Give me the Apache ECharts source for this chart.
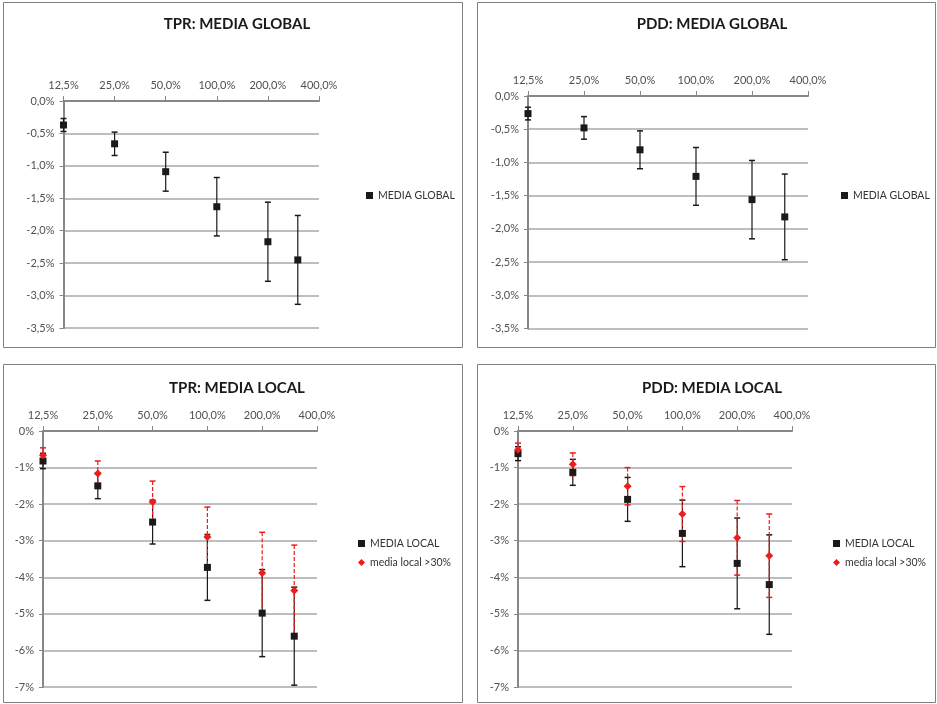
<!DOCTYPE html>
<html>
<head>
<meta charset="utf-8">
<script src="https://cdn.jsdelivr.net/npm/echarts@6/dist/echarts.min.js"></script>
<style>
  html, body { margin: 0; padding: 0; background: #fff; }
  #chart { width: 937px; height: 704px; }
</style>
</head>
<body>
<div id="chart"></div>
<script>
// Dose levels (% of reference), x positions on a base-2 log axis
const dosis = [12.5, 25, 50, 100, 200, 300];
const dosisTicks = ['12,5%', '25,0%', '50,0%', '100,0%', '200,0%', '400,0%'];

// TPR, global mean (%), with half-width of the error bar
const tprGlobalMedia = [-0.37, -0.66, -1.09, -1.63, -2.17, -2.45];
const tprGlobalError = [0.10, 0.18, 0.30, 0.45, 0.61, 0.685];

// PDD, global mean (%)
const pddGlobalMedia = [-0.265, -0.48, -0.81, -1.21, -1.56, -1.82];
const pddGlobalError = [0.095, 0.17, 0.285, 0.435, 0.59, 0.645];

// TPR, local mean (%) and local mean restricted to >30%
const tprLocalMedia = [-0.82, -1.50, -2.49, -3.73, -4.98, -5.61];
const tprLocalError = [0.21, 0.35, 0.60, 0.90, 1.19, 1.34];
const tprLocal30Media = [-0.66, -1.16, -1.94, -2.90, -3.88, -4.36];
const tprLocal30Error = [0.20, 0.34, 0.57, 0.82, 1.11, 1.24];

// PDD, local mean (%) and local mean restricted to >30%
const pddLocalMedia = [-0.62, -1.13, -1.87, -2.80, -3.62, -4.20];
const pddLocalError = [0.19, 0.355, 0.60, 0.91, 1.24, 1.36];
const pddLocal30Media = [-0.51, -0.91, -1.51, -2.27, -2.92, -3.41];
const pddLocal30Error = [0.18, 0.31, 0.51, 0.75, 1.02, 1.14];

const FONT = 'Lato, "Open Sans", sans-serif';
const AXIS_GRAY = '#878787';
const GRID_GRAY = '#a8a8a8';
const LABEL_GRAY = '#505050';
const BASE = 12.5;
const BLACK = '#1a1a1a';
const RED = '#ee1c1c';

// log2 axis counted in multiples of 12.5 %, so ticks fall on 12.5, 25, ... 400
function xPos(i) { return dosis[i] / BASE; }
function rows(media, err) {
  return media.map((m, i) => [xPos(i), m, err[i]]);
}
function fmtX(v) {
  const idx = Math.round(Math.log2(v));
  return dosisTicks[idx] !== undefined ? dosisTicks[idx] : '';
}
function fmtY(dec) {
  return v => (v === 0 ? 0 : v).toFixed(dec).replace('.', ',') + '%';
}

const grids = [
  { left: 63.5, top: 101, width: 255.5, height: 227 },
  { left: 528, top: 96, width: 280, height: 232.5 },
  { left: 43, top: 431, width: 274, height: 256 },
  { left: 518, top: 431, width: 274, height: 256 }
];

function makeX(gi) {
  return {
    gridIndex: gi, type: 'log', logBase: 2, min: 1, max: 32, position: 'top',
    axisLine: { show: true, lineStyle: { color: AXIS_GRAY, width: 2 } },
    axisTick: { show: true, length: 5, lineStyle: { color: AXIS_GRAY, width: 1 } },
    axisLabel: { formatter: fmtX, fontFamily: FONT, fontSize: 11, color: LABEL_GRAY, margin: 10 },
    splitLine: { show: false },
    minorTick: { show: false }, minorSplitLine: { show: false }
  };
}
function makeY(gi, min, interval, dec) {
  return {
    gridIndex: gi, type: 'value', min: min, max: 0, interval: interval,
    axisLine: { show: true, onZero: false, lineStyle: { color: AXIS_GRAY, width: 2 } },
    axisTick: { show: true, length: 4, lineStyle: { color: AXIS_GRAY, width: 1 } },
    axisLabel: { formatter: fmtY(dec), fontFamily: FONT, fontSize: 11, color: LABEL_GRAY, margin: 9 },
    splitLine: { show: true, lineStyle: { color: GRID_GRAY, width: 1.5 } }
  };
}

// vertical error bar with end caps
function errorBars(gi, data, color, dashed, name) {
  return {
    type: 'custom', name: name, xAxisIndex: gi, yAxisIndex: gi, z: dashed ? 3 : 2,
    data: data, encode: { x: 0, y: 1 }, silent: true,
    itemStyle: { color: color },
    renderItem: function (params, api) {
      const x = api.value(0), y = api.value(1), e = api.value(2);
      const top = api.coord([x, y + e]);
      const bot = api.coord([x, y - e]);
      const hw = 3;
      return {
        type: 'group',
        children: [
          { type: 'line', shape: { x1: top[0], y1: top[1], x2: bot[0], y2: bot[1] },
            style: { stroke: color, lineWidth: 1.2, lineDash: dashed ? [4, 2] : null } },
          { type: 'line', shape: { x1: top[0] - hw, y1: top[1], x2: top[0] + hw, y2: top[1] },
            style: { stroke: color, lineWidth: 1.5 } },
          { type: 'line', shape: { x1: bot[0] - hw, y1: bot[1], x2: bot[0] + hw, y2: bot[1] },
            style: { stroke: color, lineWidth: 1.5 } }
        ]
      };
    }
  };
}
function markers(gi, data, name, symbol, color, size, z) {
  return {
    type: 'scatter', name: name, xAxisIndex: gi, yAxisIndex: gi, z: z,
    data: data.map(r => [r[0], r[1]]),
    symbol: symbol, symbolSize: size,
    itemStyle: { color: color, opacity: 1 },
    emphasis: { disabled: true }
  };
}

const series = [
  markers(0, rows(tprGlobalMedia, tprGlobalError), 'MEDIA GLOBAL', 'rect', BLACK, 7, 5),
  errorBars(0, rows(tprGlobalMedia, tprGlobalError), BLACK, false, 'barras TPR global'),

  markers(1, rows(pddGlobalMedia, pddGlobalError), 'MEDIA GLOBAL', 'rect', BLACK, 7, 5),
  errorBars(1, rows(pddGlobalMedia, pddGlobalError), BLACK, false, 'barras PDD global'),

  markers(2, rows(tprLocalMedia, tprLocalError), 'MEDIA LOCAL', 'rect', BLACK, 7, 5),
  markers(2, rows(tprLocal30Media, tprLocal30Error), 'media local >30%', 'diamond', RED, 8, 6),
  errorBars(2, rows(tprLocalMedia, tprLocalError), BLACK, false, 'barras TPR local'),
  errorBars(2, rows(tprLocal30Media, tprLocal30Error), RED, true, 'barras TPR local >30%'),

  markers(3, rows(pddLocalMedia, pddLocalError), 'MEDIA LOCAL', 'rect', BLACK, 7, 5),
  markers(3, rows(pddLocal30Media, pddLocal30Error), 'media local >30%', 'diamond', RED, 8, 6),
  errorBars(3, rows(pddLocalMedia, pddLocalError), BLACK, false, 'barras PDD local'),
  errorBars(3, rows(pddLocal30Media, pddLocal30Error), RED, true, 'barras PDD local >30%')
];

function legendAt(left, top, items) {
  return {
    left: left, top: top, orient: 'vertical', itemGap: 8,
    itemWidth: 7, itemHeight: 7, selectedMode: false,
    textStyle: { fontFamily: FONT, fontSize: 10.5, color: '#333' },
    data: items
  };
}
const squareItem = name => ({ name: name, icon: 'rect', itemStyle: { color: BLACK } });
const diamondItem = name => ({ name: name, icon: 'diamond', itemStyle: { color: RED } });

const titleStyle = { fontFamily: FONT, fontSize: 15, fontWeight: 'bold', color: '#1a1a1a' };

const option = {
  animation: false,
  backgroundColor: '#ffffff',
  title: [
    { text: 'TPR: MEDIA GLOBAL', left: 232, top: 12, textAlign: 'center', textStyle: titleStyle },
    { text: 'PDD: MEDIA GLOBAL', left: 707, top: 12, textAlign: 'center', textStyle: titleStyle },
    { text: 'TPR: MEDIA LOCAL', left: 232, top: 376, textAlign: 'center', textStyle: titleStyle },
    { text: 'PDD: MEDIA LOCAL', left: 707, top: 376, textAlign: 'center', textStyle: titleStyle }
  ],
  legend: [
    legendAt(361, 185, [squareItem('MEDIA GLOBAL')]),
    legendAt(836, 185, [squareItem('MEDIA GLOBAL')]),
    legendAt(353, 533, [squareItem('MEDIA LOCAL'), diamondItem('media local >30%')]),
    legendAt(828, 533, [squareItem('MEDIA LOCAL'), diamondItem('media local >30%')])
  ],
  grid: grids,
  xAxis: [makeX(0), makeX(1), makeX(2), makeX(3)],
  yAxis: [makeY(0, -3.5, 0.5, 1), makeY(1, -3.5, 0.5, 1), makeY(2, -7, 1, 0), makeY(3, -7, 1, 0)],
  series: series,
  graphic: [
    { type: 'rect', shape: { x: 3.5, y: 2.5, width: 459, height: 345 }, style: { fill: 'none', stroke: '#808080', lineWidth: 1 }, silent: true },
    { type: 'rect', shape: { x: 477.5, y: 2.5, width: 458, height: 345 }, style: { fill: 'none', stroke: '#808080', lineWidth: 1 }, silent: true },
    { type: 'rect', shape: { x: 3.5, y: 364.5, width: 459, height: 338 }, style: { fill: 'none', stroke: '#808080', lineWidth: 1 }, silent: true },
    { type: 'rect', shape: { x: 477.5, y: 364.5, width: 458, height: 338 }, style: { fill: 'none', stroke: '#808080', lineWidth: 1 }, silent: true }
  ]
};

const chart = echarts.init(document.getElementById('chart'), null, { renderer: 'canvas' });
chart.setOption(option);
</script>
</body>
</html>
